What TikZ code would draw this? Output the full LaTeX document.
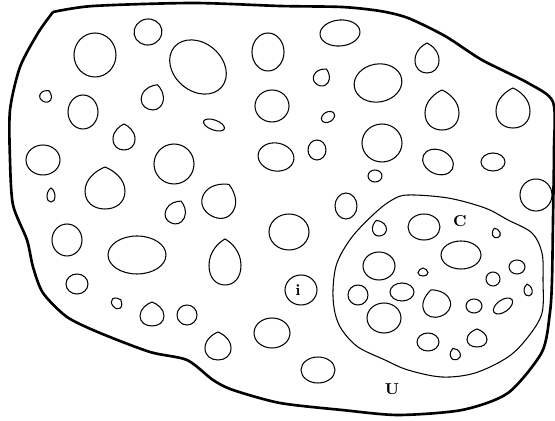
\documentclass[tikz,border=0pt]{standalone}
\usepackage{tikz}
\newcommand{\cellE}[5]{\draw[cell, rotate around={#5:(#1,#2)}] (#1,#2) ellipse [x radius=#3, y radius=#4];}
\newcommand{\cellD}[5]{\begin{scope}[shift={(#1,#2)}, rotate=#5, xscale=#3, yscale=#4]
  \draw[cell] (0,-1) .. controls (0.4,-0.85) and (1,-0.45) .. (1,0.15) .. controls (1,0.7) and (0.55,1) .. (0,1)
    .. controls (-0.55,1) and (-1,0.7) .. (-1,0.15) .. controls (-1,-0.45) and (-0.4,-0.85) .. (0,-1) -- cycle;
  \end{scope}}

\begin{document}
\begin{tikzpicture}[x=0.02cm, y=-0.02cm,
  cell/.style={draw, line width=0.6pt},
  region/.style={draw, line width=0.6pt},
  universe/.style={draw, line width=1.5pt, line join=round},
  lbl/.style={font=\bfseries\small, inner sep=0pt}]
  \useasboundingbox (0,0) rectangle (555,421);
  \draw[universe] plot[smooth, tension=0.45] coordinates {(53,12) (93,6) (193,3) (280,6) (342,7) (380,11)
    (408,18) (445,36) (482,60) (528,83) (553,102) (554,150) (553,220) (552,280) (550,312) (542,352)
    (508,393) (462,410) (398,415) (342,410) (280,403) (233,390) (213,380) (187,360) (150,352) (100,333)
    (67,317) (43,293) (33,267) (27,240) (13,205) (10,160) (10,110) (20,67) (38,33) (53,12)};
  \draw[region] plot[smooth cycle, tension=0.55] coordinates {(392,200) (408,195) (448,198) (485,208) (508,220)
    (532,233) (542,253) (543,280) (542,313) (528,337) (508,357) (475,373) (442,377) (408,370) (385,360)
    (358,347) (342,330) (335,313) (333,290) (337,263) (352,237) (375,213)};
  \cellE{95}{55}{21}{22}{0} \cellE{148}{32}{14}{13}{10} \cellE{198}{67}{31}{24}{-40}
  \cellD{46}{96}{6}{6}{-30} \cellE{83}{112}{15}{17}{0} \cellD{153}{97}{11}{13}{-20}
  \cellE{214}{125}{11}{5}{-20} \cellD{124}{137}{11}{13}{0} \cellE{43}{160}{17}{15}{0}
  \cellE{174}{164}{20}{20}{0} \cellD{105}{188}{20}{21}{0} \cellD{51}{195}{4}{7}{0}
  \cellD{220}{200}{17}{18}{-30} \cellD{176}{212}{10}{12}{-25} \cellE{268}{52}{16}{19}{0}
  \cellE{272}{106}{17}{16}{0} \cellE{276}{157}{18}{14}{-10}
  \cellE{340}{33}{20}{13}{5} \cellD{427}{58}{12}{15}{0} \cellD{322}{77}{8}{9}{-30}
  \cellE{378}{83}{24}{19}{10} \cellE{328}{117}{7}{5}{30} \cellD{442}{110}{17}{20}{0}
  \cellD{513}{108}{17}{20}{0} \cellE{382}{143}{20}{19}{0} \cellE{317}{150}{9}{10}{0}
  \cellE{438}{162}{16}{12}{-25} \cellE{493}{162}{12}{9}{0} \cellE{375}{176}{7}{6}{0}
  \cellE{536}{195}{16}{16}{0} \cellE{346}{206}{11}{13}{0}
  \cellE{67}{240}{15}{16}{0} \cellE{137}{255}{29}{19}{0} \cellD{225}{262}{16}{23}{0}
  \cellE{289}{232}{20}{18}{0} \cellE{77}{284}{11}{10}{0} \cellD{117}{303}{6}{5}{-50}
  \cellD{152}{314}{12}{12}{0} \cellE{187}{315}{10}{10}{0} \cellD{218}{346}{13}{14}{0}
  \cellE{272}{333}{18}{15}{0} \cellE{318}{370}{17}{13}{0} \cellE{301}{290}{16}{15}{0}
  \cellD{379}{228}{7}{8}{20} \cellE{424}{227}{16}{13}{0} \cellD{496}{233}{4}{5}{20}
  \cellE{379}{266}{16}{14}{0} \cellE{461}{255}{20}{14}{0} \cellD{423}{272}{5}{4}{0}
  \cellE{517}{267}{8}{7}{0} \cellE{493}{279}{7}{7}{0} \cellD{528}{290}{4}{6}{10}
  \cellE{358}{295}{10}{10}{0} \cellE{402}{292}{12}{9}{0} \cellD{436}{303}{14}{14}{20}
  \cellE{474}{306}{8}{7}{0} \cellE{503}{306}{11}{6}{35} \cellE{384}{318}{17}{15}{0}
  \cellE{428}{342}{11}{9}{0} \cellD{477}{338}{10}{9}{0} \cellD{455}{354}{5}{6}{20}
  \node[lbl] (labC) at (460,221) {C};
  \node[lbl] (labU) at (392,389) {U};
  \node[lbl] (labi) at (298,290) {i};
\end{tikzpicture}
\end{document}
